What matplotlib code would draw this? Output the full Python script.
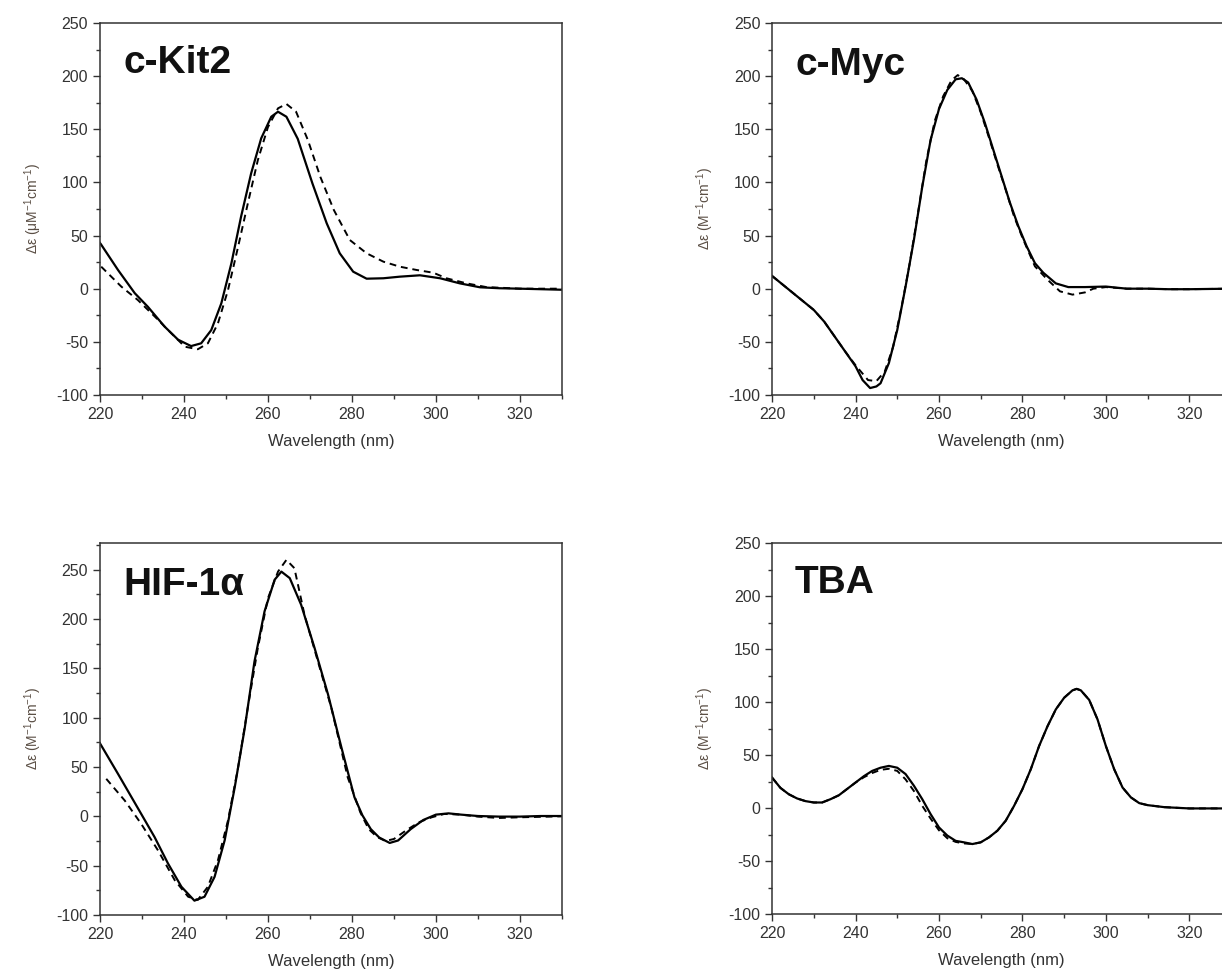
import matplotlib.pyplot as plt
from matplotlib.ticker import MultipleLocator

plt.rcParams['font.family'] = ['Liberation Sans', 'DejaVu Sans']
plt.rcParams['mathtext.fontset'] = 'custom'
plt.rcParams['mathtext.rm'] = 'Liberation Sans'
plt.rcParams['axes.unicode_minus'] = False

# c-Kit2 CD spectra (solid / dashed)
kit_wl = [220, 220.2, 224.3, 228.3, 231.4, 235.4, 238.6, 241.7, 244.1, 246.5, 248.9, 251.3,
          253.6, 256, 258.4, 260.8, 262.4, 264.4, 267.1, 270.6, 274, 277.1, 280.3, 283.5,
          287.5, 291.4, 296.2, 301, 305.7, 310.5, 315.2, 320, 330]
kit_solid = [43, 42, 17.6, -4.3, -17, -35.7, -48, -54, -51.4, -39, -13.8, 23.9,
             67.7, 108.5, 141.5, 161.8, 166.5, 161.8, 141, 99, 61.5, 33.3, 16, 9.4,
             9.8, 11.3, 12.6, 9.8, 5, 1.3, 0.4, 0, -1]
kit_wl_d = [220.3, 225.1, 229, 233, 237, 240.2, 243.3, 245.7, 248.1, 250.5, 252.9, 255.2,
            257.6, 260, 262.4, 264.4, 266.7, 269.5, 272.5, 275.7, 279.5, 283.5, 287.5,
            291.4, 295.4, 299.4, 302.5, 307.3, 312, 320, 330]
kit_dash = [20.7, 1.9, -10.6, -26, -42, -54.6, -57, -51.4, -32.6, -1.2, 39.5, 80,
            121, 152, 169.7, 173.8, 166.5, 140, 105, 74, 45.8, 33.3, 25.4,
            20.7, 17.6, 15, 9.8, 5, 1.5, 0, 0]

# c-Myc
myc_wl = [220, 225, 227.5, 230, 232.5, 235, 237.5, 240, 241.7, 243.5, 245, 246, 248, 250,
          252, 254, 256, 258, 260, 262, 264, 265.5, 267, 269, 271, 273, 275, 277, 279, 281,
          283, 285, 288, 291, 295, 300, 305, 310, 315, 320, 330]
myc_solid = [12, -4, -12, -20, -31, -45, -59, -73, -86, -93.5, -92, -89, -70, -39,
             2, 46, 96, 140, 169, 187, 197, 198, 194, 178, 156, 131, 106, 81, 59, 40,
             24, 15, 5, 1.5, 1.5, 2, 0, 0, -0.5, -0.5, 0]
myc_wl_d = [220, 225, 227.5, 230, 232.5, 235, 237.5, 240, 243, 245, 247, 249, 251, 253,
            255, 257, 259, 261, 263, 264.5, 266, 268, 270, 272, 274, 276, 278, 280, 283,
            286, 289, 292, 295, 297, 300, 305, 310, 315, 320, 330]
myc_dash = [12, -4, -12, -20, -31, -45, -59, -72, -86, -87, -78, -55, -18, 24,
            72, 121, 158, 181, 196, 201, 197, 186, 166, 142, 117, 93, 68, 48, 21,
            8.5, -2.5, -5.6, -3.5, 0, 1.5, 0, 0, -0.5, -0.5, 0]

# HIF-1alpha
hif_wl = [220, 224.3, 229.8, 233, 236.2, 239.4, 242.5, 244.9, 247.3, 249.7, 252.1, 254.5,
          256.8, 259.2, 261.6, 263.2, 265.2, 267.9, 271.1, 274.3, 277.5, 280.6, 282.5,
          284.5, 286.5, 289, 291, 294, 297, 300, 303, 306, 310, 315, 320, 325, 330]
hif_solid = [74, 43, 2.6, -21, -47.8, -71.4, -85.5, -81.5, -61.3, -24.3, 29.5, 90,
             157, 207.8, 239.8, 248, 241.4, 214.5, 170.7, 123.7, 69.8, 19.4, 1,
             -13, -21.5, -27, -24.5, -13, -3.7, 1.7, 3, 1.7, 0.3, -0.3, -0.3, 0.3, 0.3]
hif_wl_d = [221.5, 225.9, 229.8, 233.8, 237.8, 241, 243.3, 245.7, 248.1, 250.5, 252.9,
            255.2, 257.6, 260, 262.4, 264.4, 266.3, 268.7, 271.9, 275.1, 279, 282,
            284, 286, 288, 290, 293, 296, 299, 302, 306, 310, 315, 320, 330]
hif_dash = [38, 16, -7.5, -34.4, -64.7, -81.5, -84.7, -71.4, -44.5, -4, 49.6,
            110, 170.7, 221, 248, 259.9, 251.5, 204.4, 157, 110, 39.5, 4,
            -13, -21, -25, -23, -14, -6, -1, 2.4, 1.7, -0.3, -1.7, -1, 0]

# TBA
tba_wl = [220, 222, 224, 226, 228, 230, 232, 234, 236, 238, 240, 242, 244, 246, 248, 250,
          252, 254, 256, 258, 260, 262, 264, 266, 268, 270, 272, 274, 276, 278, 280, 282,
          284, 286, 288, 290, 292, 293, 294, 296, 298, 300, 302, 304, 306, 308, 310, 314,
          318, 320, 330]
tba_solid = [28.7, 19, 13, 9, 6.5, 5.2, 5.2, 8.3, 12, 18, 24, 30, 35, 38, 39.7, 38,
             32, 21, 8.3, -5.8, -18.3, -26, -31, -32.4, -34, -32.4, -27.7, -21.4, -12, 2, 17.7, 36.5,
             58.5, 77, 93, 104, 111, 112.4, 111, 102, 83.6, 58.5, 36.5, 19.3, 10, 4.6, 2.7, 0.8,
             0, -0.4, -0.4]
tba_dash = [28.7, 19, 13, 9, 6.5, 5.2, 5.2, 8.3, 12, 18, 24, 29, 33, 36, 37, 35,
            27, 16, 2, -10, -21, -28.5, -32, -33.4, -34, -32.4, -27.7, -21.4, -12, 2, 17.7, 36.5,
            58.5, 77, 93, 104, 111, 112.4, 111, 102, 83.6, 58.5, 36.5, 19.3, 10, 4.6, 2.7, 0.8,
            0, -0.4, -0.4]

unit_label = r'Δε (M$^{-1}$cm$^{-1}$)'
panels = [
    ('c-Kit2', kit_wl, kit_solid, kit_wl_d, kit_dash, (-100, 250), r'Δε (μM$^{-1}$cm$^{-1}$)',
     [0.0818, 0.5945, 0.378, 0.3819], 0.866),
    ('c-Myc', myc_wl, myc_solid, myc_wl_d, myc_dash, (-100, 250), unit_label,
     [0.6318, 0.5945, 0.3756, 0.3819], 0.86),
    ('HIF-1α', hif_wl, hif_solid, hif_wl_d, hif_dash, (-100, 277), unit_label,
     [0.0818, 0.0606, 0.378, 0.3819], 0.86),
    ('TBA', tba_wl, tba_solid, tba_wl, tba_dash, (-100, 250), unit_label,
     [0.6318, 0.0616, 0.3756, 0.3809], 0.865),
]

fig = plt.figure(figsize=(12.22, 9.74), dpi=100)

for name, wl, solid, wl_d, dash, ylim, ylab, pos, ty in panels:
    ax = fig.add_axes(pos)
    ax.plot(wl, solid, color='black', lw=1.6)
    ax.plot(wl_d, dash, color='black', lw=1.4, linestyle=(0, (3.5, 2.5)))
    ax.set_xlim(220, 330)
    ax.set_ylim(*ylim)
    ax.xaxis.set_major_locator(MultipleLocator(20))
    ax.xaxis.set_minor_locator(MultipleLocator(10))
    ax.yaxis.set_major_locator(MultipleLocator(50))
    ax.yaxis.set_minor_locator(MultipleLocator(25))
    ax.tick_params(which='both', direction='out', colors='#333333', labelsize=11.5, width=1)
    ax.tick_params(which='major', length=5)
    ax.tick_params(which='minor', length=3)
    for s in ax.spines.values():
        s.set_color('#333333')
        s.set_linewidth(1.1)
    ax.set_xlabel('Wavelength (nm)', fontsize=12, color='#333333', labelpad=9)
    ax.set_ylabel(ylab, fontsize=10, color='#5a4e44', labelpad=9)
    ax.text(0.05, ty, name, transform=ax.transAxes, fontsize=28, fontweight='bold',
            color='#111111', ha='left', va='baseline')

fig.savefig('out.png', dpi=100, facecolor='white')
